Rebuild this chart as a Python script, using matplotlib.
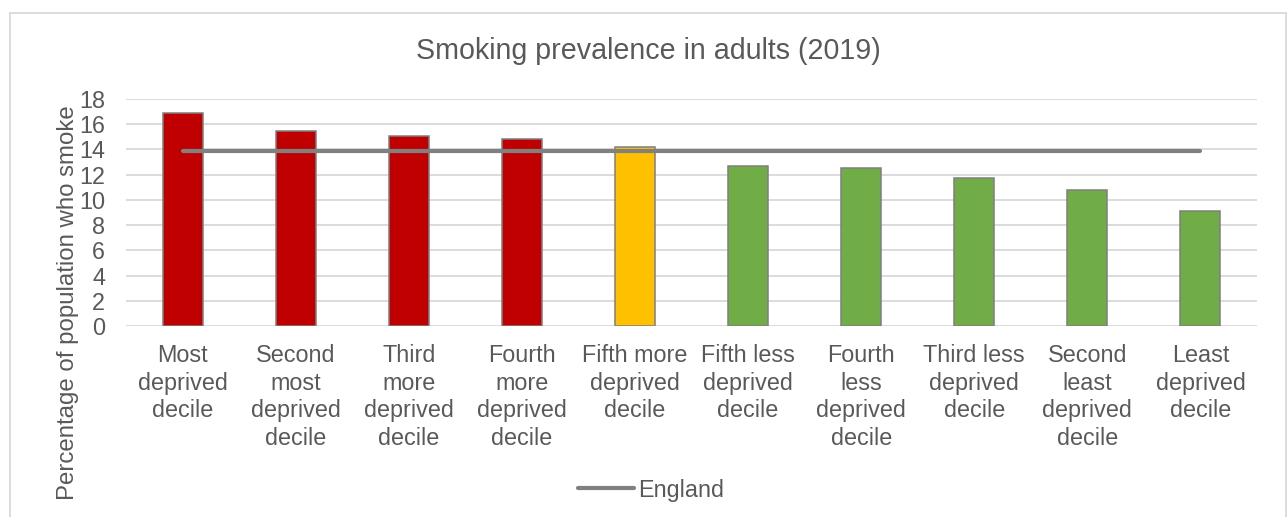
import matplotlib.pyplot as plt
from matplotlib.lines import Line2D

# smoking prevalence by deprivation decile, 2019
categories = [
    "Most\ndeprived\ndecile",
    "Second\nmost\ndeprived\ndecile",
    "Third\nmore\ndeprived\ndecile",
    "Fourth\nmore\ndeprived\ndecile",
    "Fifth more\ndeprived\ndecile",
    "Fifth less\ndeprived\ndecile",
    "Fourth\nless\ndeprived\ndecile",
    "Third less\ndeprived\ndecile",
    "Second\nleast\ndeprived\ndecile",
    "Least\ndeprived\ndecile",
]
prevalence = [16.9, 15.5, 15.1, 14.8, 14.2, 12.7, 12.5, 11.7, 10.8, 9.1]
england = [13.9] * len(categories)
bar_colors = ["#c00000"] * 4 + ["#ffc000"] + ["#70ad47"] * 5
yticks = list(range(0, 20, 2))

TEXT = "#595959"
GRID = "#d9d9d9"
plt.rcParams["font.family"] = ["Liberation Sans", "DejaVu Sans"]

fig = plt.figure(figsize=(12.87, 5.17), dpi=100)
ax = fig.add_axes([126 / 1287, 1 - 326 / 517, 1131 / 1287, 227 / 517])

x = range(len(categories))
ax.bar(x, prevalence, width=0.353, color=bar_colors, edgecolor="#7f7f7f",
       linewidth=1.1, zorder=2)
ax.plot(x, england, color="#808080", linewidth=3.0, solid_capstyle="round",
        zorder=3, label="England")

ax.set_xlim(-0.5, len(categories) - 0.5)
ax.set_ylim(0, 18)
ax.set_yticks(yticks)
ax.set_xticks(list(x))
ax.set_xticklabels(categories, fontsize=16.8, color=TEXT, linespacing=1.26)
ax.tick_params(axis="y", length=0, pad=15, labelsize=16.8, labelcolor=TEXT)
ax.tick_params(axis="x", length=0, pad=13)
ax.grid(axis="y", color=GRID, linewidth=1.3, zorder=0)
for s in ax.spines.values():
    s.set_visible(False)

fig.text(648 / 1287, 1 - 51 / 517, "Smoking prevalence in adults (2019)",
         ha="center", va="center", fontsize=20.6, color=TEXT)
fig.text(68 / 1287, 1 - 303 / 517, "Percentage of population who smoke",
         ha="center", va="center", rotation=90, fontsize=17.3, color=TEXT)

fig.legend(loc="center", bbox_to_anchor=(651 / 1287, 1 - 490 / 517),
           frameon=False, fontsize=16.8, labelcolor=TEXT, handlelength=2.4,
           handletextpad=0.2)

# chart frame (open at the bottom edge)
fx0, fy1, fx1 = 9.5 / 1287, 1 - 12.5 / 517, 1285.5 / 1287
for xs, ys in [([fx0, fx0], [0, fy1]), ([fx0, fx1], [fy1, fy1]), ([fx1, fx1], [fy1, 0])]:
    fig.add_artist(Line2D(xs, ys, color=GRID, linewidth=1.3, transform=fig.transFigure))

fig.savefig("out.png", dpi=100)
